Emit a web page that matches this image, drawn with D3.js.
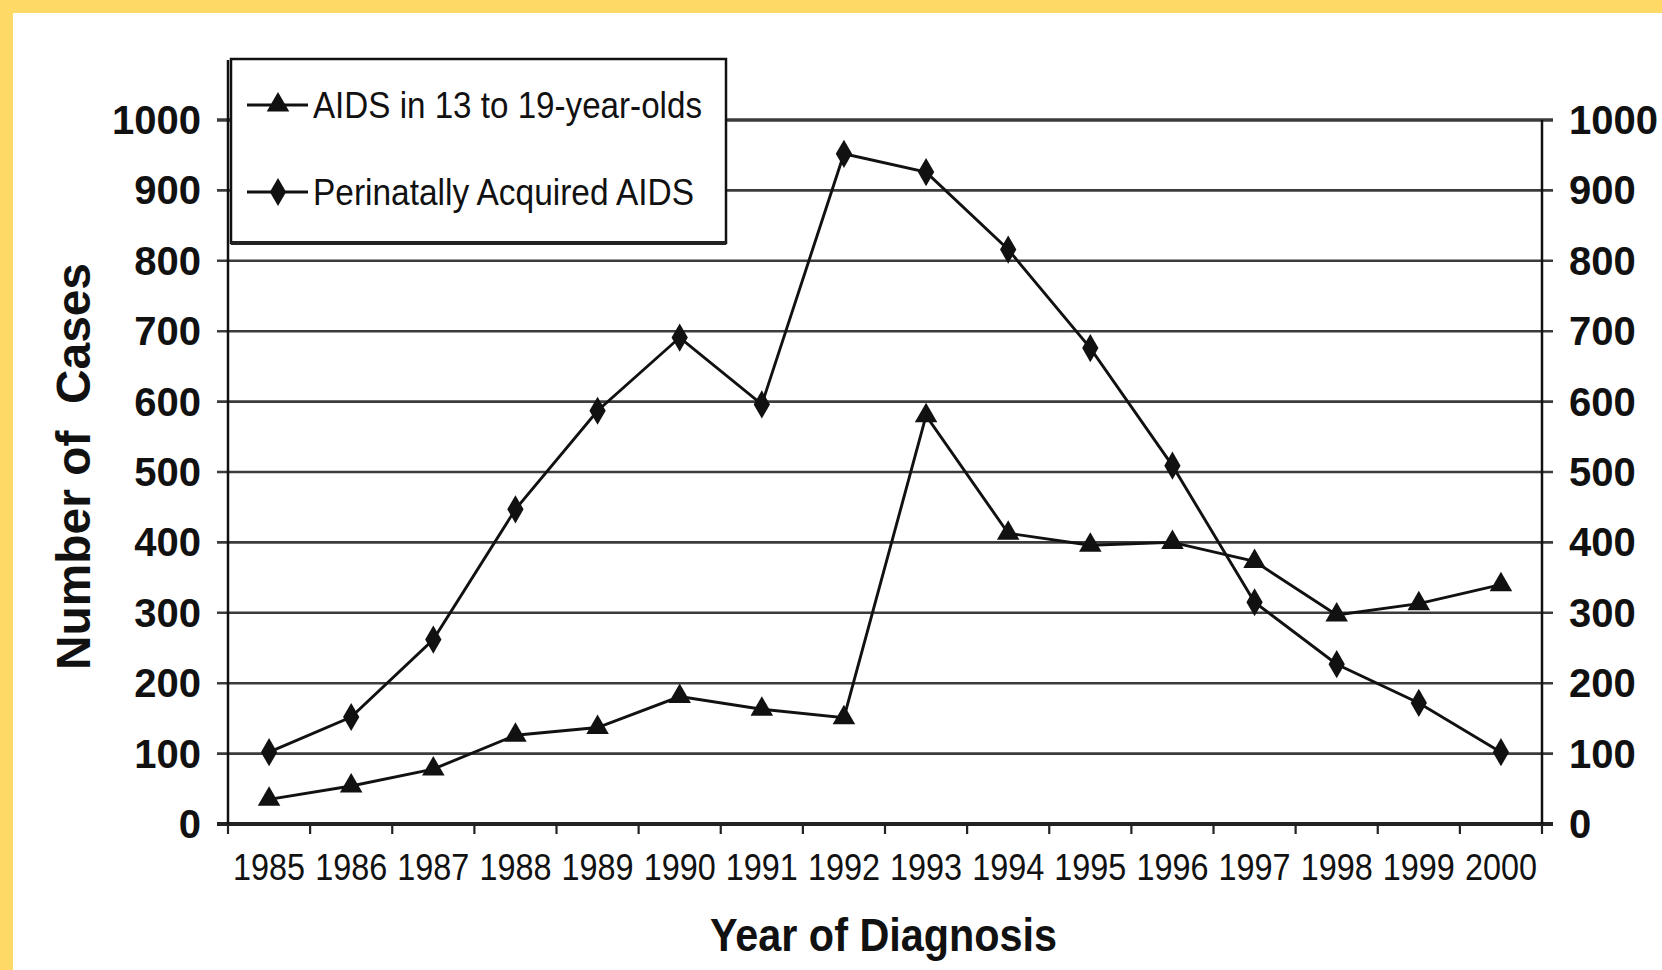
<!DOCTYPE html>
<html>
<head>
<meta charset="utf-8">
<script src="https://cdn.jsdelivr.net/npm/d3@7"></script>
<style>
  html, body { margin: 0; padding: 0; background: #FFD966; }
  svg { display: block; }
</style>
</head>
<body>
<svg id="chart" width="1662" height="970"></svg>
<script>
// ---------- data ----------
const years = ["1985","1986","1987","1988","1989","1990","1991","1992","1993","1994","1995","1996","1997","1998","1999","2000"];
const teenAIDS = [35, 54, 78, 126, 137, 181, 163, 151, 580, 413, 396, 400, 373, 297, 313, 340];
const perinatalAIDS = [102, 152, 262, 447, 587, 691, 596, 952, 926, 816, 676, 509, 315, 227, 172, 102];
const yTicks = [0, 100, 200, 300, 400, 500, 600, 700, 800, 900, 1000];
const seriesNames = ["AIDS in 13 to 19-year-olds", "Perinatally Acquired AIDS"];
const xTitle = "Year of Diagnosis";
const yTitle = "Number of\u00a0\u00a0Cases";

(function () {
// ---------- layout ----------
const W = 1662, H = 970;
const pLeft = 228, pRight = 1542, pTop = 120, pBottom = 824;
const font = "'Liberation Sans', Arial, sans-serif";

const svg = d3.select("#chart");
svg.append("rect").attr("x", 0).attr("y", 0).attr("width", W).attr("height", H).attr("fill", "#FFD966");
svg.append("rect").attr("x", 13).attr("y", 13).attr("width", W - 13).attr("height", H - 13).attr("fill", "#ffffff");

const x = d3.scaleBand().domain(years).range([pLeft, pRight]).padding(0);
const y = d3.scaleLinear().domain([0, 1000]).range([pBottom, pTop]);

// gridlines
svg.append("g").selectAll("line").data(yTicks).join("line")
  .attr("x1", pLeft - 11).attr("x2", pRight + 11)
  .attr("y1", d => y(d)).attr("y2", d => y(d))
  .attr("stroke", d => d === 0 ? "#222" : "#3c3c3c")
  .attr("stroke-width", d => d === 0 ? 4 : (d === 1000 ? 3.5 : 2.6));

// axes lines
svg.append("line").attr("x1", pLeft).attr("x2", pLeft).attr("y1", y(1000) - 60).attr("y2", pBottom + 2)
  .attr("stroke", "#111").attr("stroke-width", 2.5);
svg.append("line").attr("x1", pRight).attr("x2", pRight).attr("y1", y(1000)).attr("y2", pBottom + 2)
  .attr("stroke", "#111").attr("stroke-width", 2.5);

// x tick marks at band boundaries
const bounds = years.map(d => x(d)).concat([pRight]);
svg.append("g").selectAll("line").data(bounds).join("line")
  .attr("x1", d => d).attr("x2", d => d)
  .attr("y1", pBottom).attr("y2", pBottom + 10)
  .attr("stroke", "#222").attr("stroke-width", 2.2);

// y tick labels left & right
svg.append("g").selectAll("text").data(yTicks).join("text")
  .attr("x", pLeft - 27).attr("y", d => y(d) + 14)
  .attr("text-anchor", "end")
  .attr("font-family", font).attr("font-weight", "bold").attr("font-size", 40)
  .attr("fill", "#111").text(d => d);
svg.append("g").selectAll("text").data(yTicks).join("text")
  .attr("x", pRight + 27).attr("y", d => y(d) + 14)
  .attr("text-anchor", "start")
  .attr("font-family", font).attr("font-weight", "bold").attr("font-size", 40)
  .attr("fill", "#111").text(d => d);

// x tick labels
svg.append("g").selectAll("text").data(years).join("text")
  .attr("x", d => x(d) + x.bandwidth() / 2 - 36).attr("y", pBottom + 56)
  .attr("font-family", font).attr("font-size", 37)
  .attr("textLength", 72).attr("lengthAdjust", "spacingAndGlyphs")
  .attr("fill", "#111").text(d => d);

// axis titles
svg.append("text")
  .attr("x", 883 - 173).attr("y", 951)
  .attr("font-family", font).attr("font-weight", "bold").attr("font-size", 46)
  .attr("textLength", 347).attr("lengthAdjust", "spacingAndGlyphs")
  .attr("fill", "#111").text(xTitle);
svg.append("text")
  .attr("transform", "translate(90,670) rotate(-90)")
  .attr("font-family", font).attr("font-weight", "bold").attr("font-size", 48)
  .attr("textLength", 407).attr("lengthAdjust", "spacingAndGlyphs")
  .attr("fill", "#111").text(yTitle);

// series lines
const line = d3.line().x((d, i) => x(years[i]) + x.bandwidth() / 2).y(d => y(d));
svg.append("path").datum(perinatalAIDS).attr("d", line)
  .attr("fill", "none").attr("stroke", "#111").attr("stroke-width", 2.9);
svg.append("path").datum(teenAIDS).attr("d", line)
  .attr("fill", "none").attr("stroke", "#111").attr("stroke-width", 2.9);

const diamond = d3.symbol().type(d3.symbolDiamond).size(230);
const triangle = d3.symbol().type(d3.symbolTriangle).size(220);

svg.append("g").selectAll("path").data(perinatalAIDS).join("path")
  .attr("d", diamond)
  .attr("transform", (d, i) => `translate(${x(years[i]) + x.bandwidth() / 2},${y(d)})`)
  .attr("fill", "#111");
svg.append("g").selectAll("path").data(teenAIDS).join("path")
  .attr("d", triangle)
  .attr("transform", (d, i) => `translate(${x(years[i]) + x.bandwidth() / 2},${y(d)})`)
  .attr("fill", "#111");

// legend
const lg = svg.append("g");
lg.append("rect").attr("x", 231).attr("y", 59).attr("width", 495).attr("height", 184)
  .attr("fill", "#fff").attr("stroke", "#111").attr("stroke-width", 2.5);
lg.append("line").attr("x1", 231).attr("x2", 726).attr("y1", 243).attr("y2", 243)
  .attr("stroke", "#222").attr("stroke-width", 4);
const legendRows = [
  { name: seriesNames[0], sym: triangle, y: 105, len: 389 },
  { name: seriesNames[1], sym: diamond, y: 192, len: 381 }
];
legendRows.forEach(r => {
  lg.append("line").attr("x1", 247).attr("x2", 308).attr("y1", r.y).attr("y2", r.y)
    .attr("stroke", "#111").attr("stroke-width", 2.9);
  lg.append("path").attr("d", r.sym).attr("transform", `translate(278,${r.y})`).attr("fill", "#111");
  lg.append("text").attr("x", 313).attr("y", r.y + 13)
    .attr("font-family", font).attr("font-size", 37)
    .attr("textLength", r.len).attr("lengthAdjust", "spacingAndGlyphs")
    .attr("fill", "#111").text(r.name);
});
})();
</script>
</body>
</html>
